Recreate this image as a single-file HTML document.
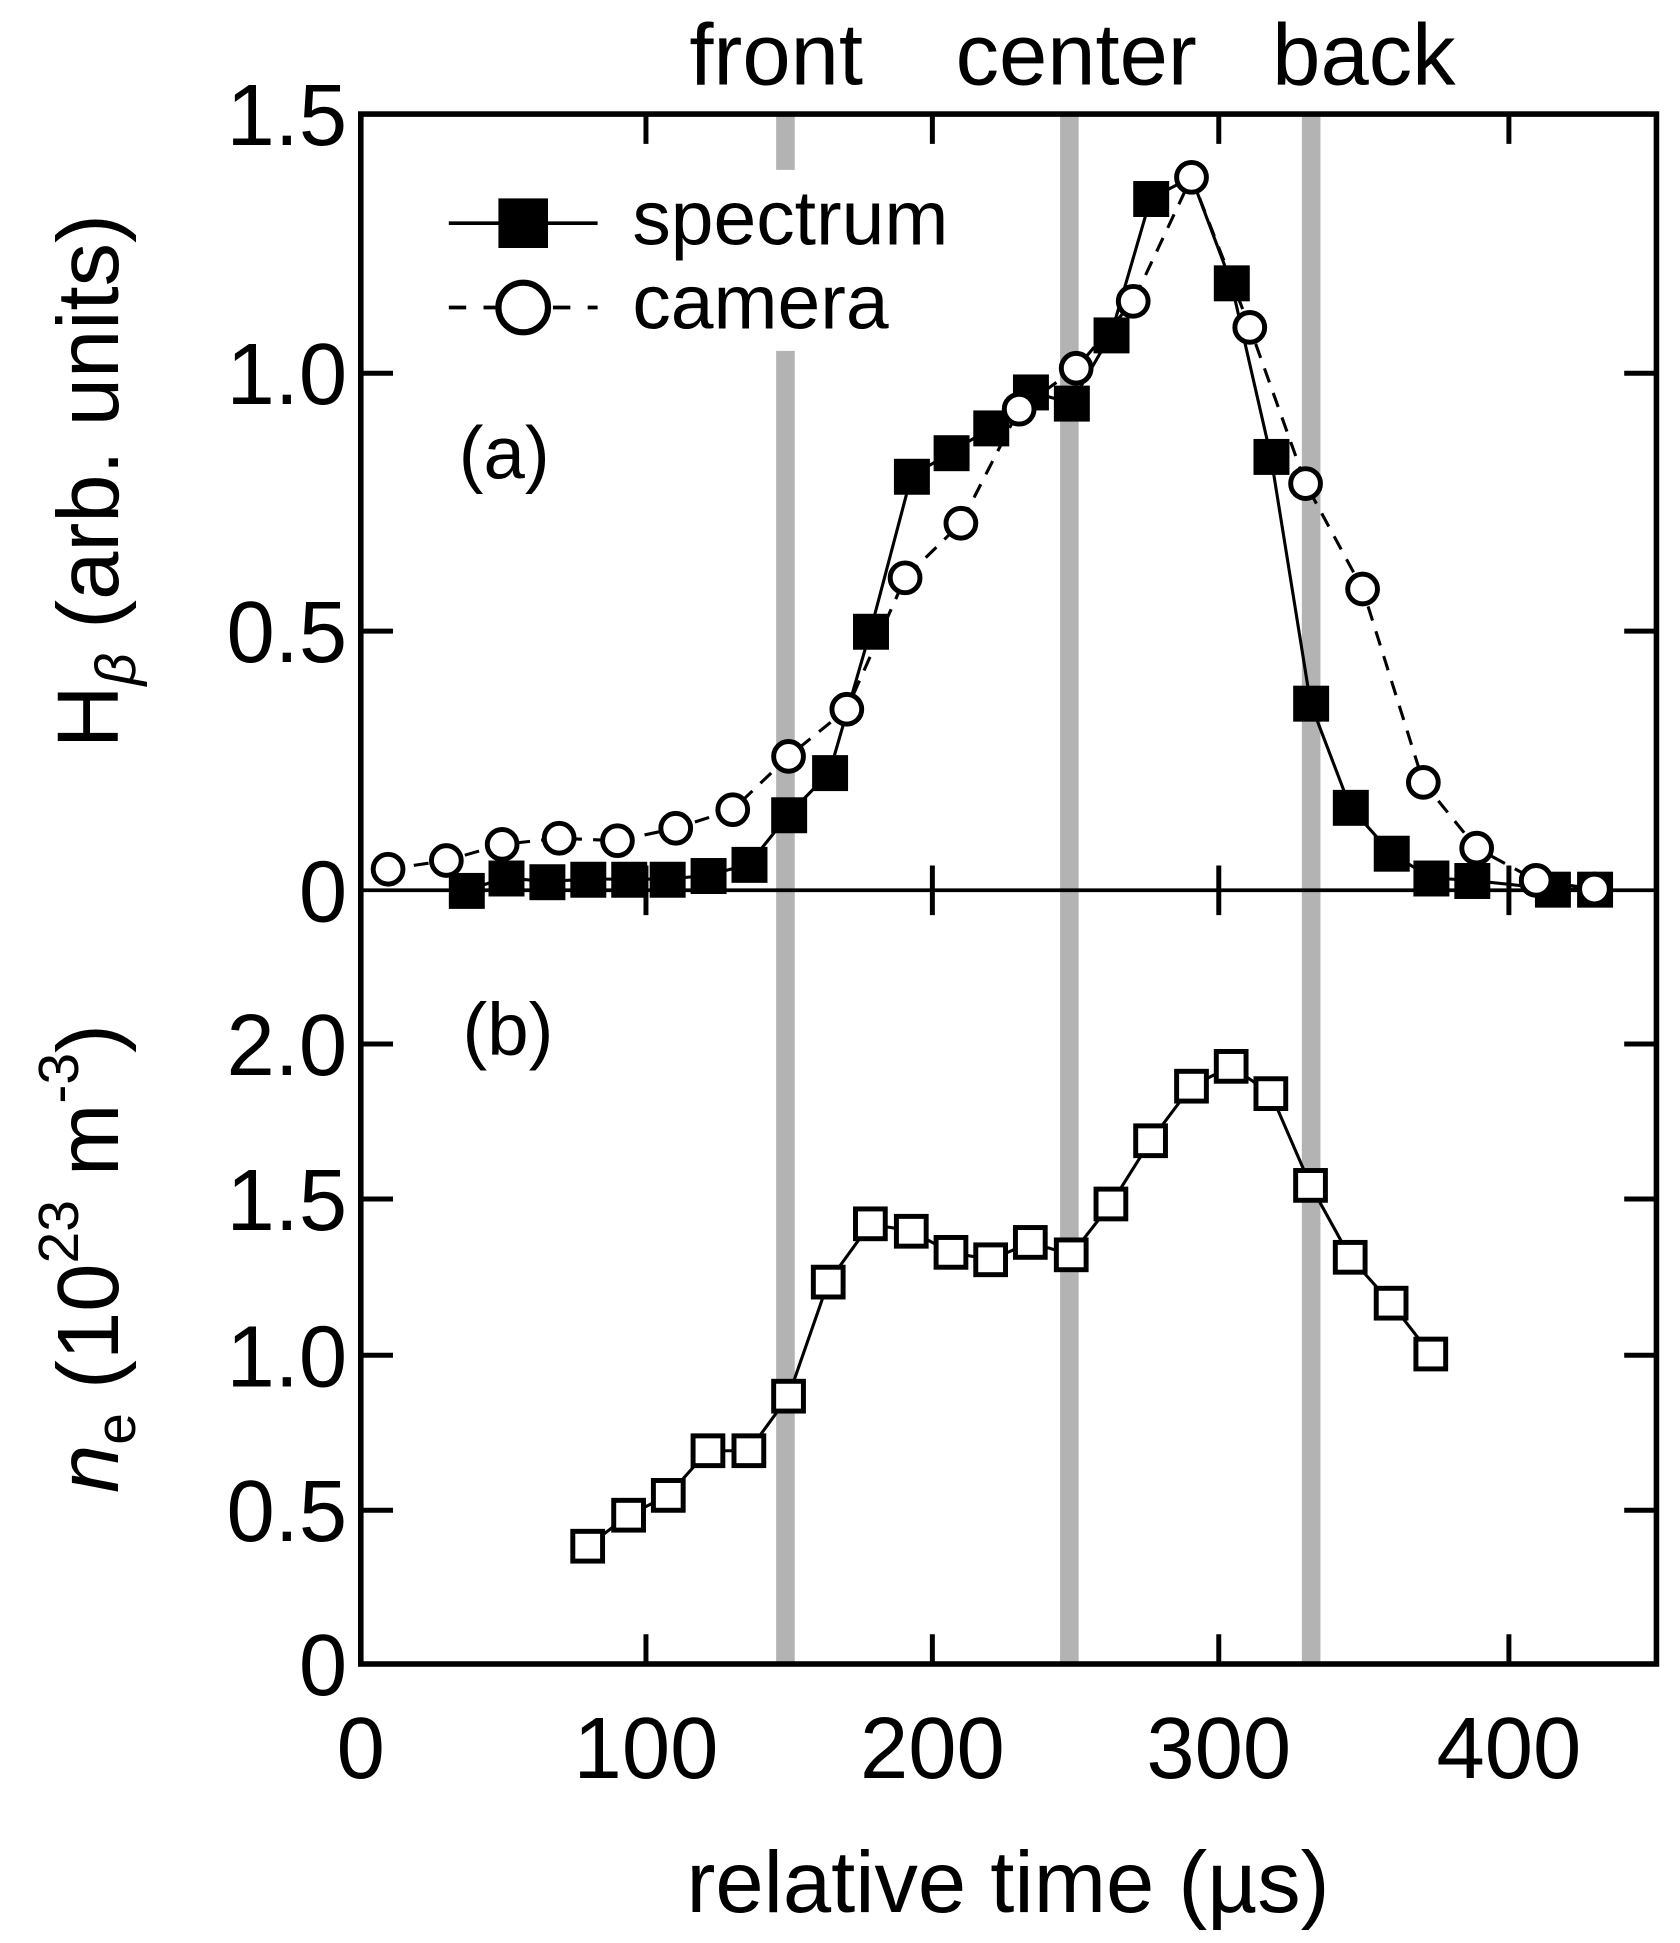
<!DOCTYPE html>
<html><head><meta charset="utf-8"><style>html,body{margin:0;padding:0;background:#fff}svg{display:block}</style></head>
<body>
<svg width="1680" height="1943" viewBox="0 0 1355 1567" preserveAspectRatio="none" xmlns="http://www.w3.org/2000/svg" font-family="Liberation Sans, Arial, sans-serif">
<rect width="1355" height="1567" fill="#fff"/>
<g fill="#b3b3b3">
<rect x="626" y="92" width="15" height="45"/><rect x="626" y="283" width="15" height="1059"/>
<rect x="855" y="92" width="15" height="1250"/>
<rect x="1050" y="92" width="15" height="1250"/>
</g>
<g stroke="#000" stroke-width="4.5" fill="none">
<rect x="291" y="92" width="1045" height="1250"/>
<line x1="291" y1="718" x2="1336" y2="718" stroke-width="3"/>
</g>
<g stroke="#000" stroke-width="4">
<path d="M521,1342v-24M752,1342v-24M983,1342v-24M1217,1342v-24
M521,92v24M752,92v24M983,92v24M1217,92v24
M521,698v40M752,698v40M983,698v40M1217,698v40"/>
<path d="M291,509h26M291,301h26M1336,509h-26M1336,301h-26"/>
<path d="M291,1218h26M291,1093h26M291,967h26M291,842h26M1336,1218h-26M1336,1093h-26M1336,967h-26M1336,842h-26"/>
</g>
<g font-size="70" text-anchor="end" fill="#000">
<text x="280" y="117">1.5</text><text x="280" y="326">1.0</text><text x="280" y="534">0.5</text><text x="280" y="743">0</text>
<text x="280" y="867">2.0</text><text x="280" y="992">1.5</text><text x="280" y="1118">1.0</text><text x="280" y="1243">0.5</text><text x="280" y="1367">0</text>
</g>
<g font-size="70" text-anchor="middle" fill="#000">
<text x="291" y="1434">0</text><text x="521" y="1434">100</text><text x="752" y="1434">200</text><text x="983" y="1434">300</text><text x="1217" y="1434">400</text>
<text x="813" y="1542">relative time (µs)</text>
<text x="626" y="68">front</text><text x="868" y="68">center</text><text x="1100" y="68">back</text>
</g>
<text x="370" y="386" font-size="60">(a)</text>
<text x="373" y="851" font-size="60">(b)</text>
<text transform="translate(95,388) rotate(-90)" text-anchor="middle" font-size="70">H<tspan font-size="46" font-style="italic" dy="14">β</tspan><tspan dy="-14"> (arb. units)</tspan></text>
<text transform="translate(95,1015) rotate(-90)" text-anchor="middle" font-size="70"><tspan font-style="italic">n</tspan><tspan font-size="46" dy="14">e</tspan><tspan dy="-14"> (10</tspan><tspan font-size="46" dy="-32">23</tspan><tspan dy="32"> m</tspan><tspan font-size="46" dy="-32">-3</tspan><tspan dy="32">)</tspan></text>
<line x1="362" y1="180" x2="482" y2="180" stroke="#000" stroke-width="3"/>
<rect x="402" y="160" width="40" height="40" fill="#000"/>
<text x="510" y="197" font-size="62">spectrum</text>
<line x1="362" y1="248" x2="482" y2="248" stroke="#000" stroke-width="3" stroke-dasharray="14,14"/>
<circle cx="422" cy="248" r="20" fill="#fff" stroke="#000" stroke-width="5"/>
<text x="510" y="265" font-size="62">camera</text>
<polyline fill="none" stroke="#000" stroke-width="2.5" stroke-dasharray="12,9" points="313,701 360,694 405,681 451,676 498,678 545,668 591,653 636,610 683,572 730,466 775,422 822,330 868,297 914,243 961,143 1008,264 1053,390 1099,475 1148,631 1191,684 1239,710 1286,717"/>
<polyline fill="none" stroke="#000" stroke-width="2.5" points="376,718 408,708 441,711 474,709 507,709 538,709 571,706 604,697 636,657 669,623 702,509 735,384 767,365 799,345 831,316 864,325 896,270 928,160 961,143 993,228 1025,368 1057,567 1089,651 1122,688 1154,708 1187,710 1252,717 1286,717"/>
<g fill="#000">
<rect x="362" y="704" width="29" height="29"/><rect x="394" y="694" width="29" height="29"/><rect x="427" y="697" width="29" height="29"/><rect x="460" y="695" width="29" height="29"/><rect x="493" y="695" width="29" height="29"/><rect x="524" y="695" width="29" height="29"/><rect x="557" y="692" width="29" height="29"/><rect x="590" y="683" width="29" height="29"/><rect x="622" y="643" width="29" height="29"/><rect x="655" y="609" width="29" height="29"/><rect x="688" y="495" width="29" height="29"/><rect x="721" y="370" width="29" height="29"/><rect x="753" y="351" width="29" height="29"/><rect x="785" y="331" width="29" height="29"/><rect x="817" y="302" width="29" height="29"/><rect x="850" y="311" width="29" height="29"/><rect x="882" y="256" width="29" height="29"/><rect x="914" y="146" width="29" height="29"/><rect x="979" y="214" width="29" height="29"/><rect x="1011" y="354" width="29" height="29"/><rect x="1043" y="553" width="29" height="29"/><rect x="1075" y="637" width="29" height="29"/><rect x="1108" y="674" width="29" height="29"/><rect x="1140" y="694" width="29" height="29"/><rect x="1173" y="696" width="29" height="29"/><rect x="1238" y="703" width="29" height="29"/><rect x="1272" y="703" width="29" height="29"/>
</g>
<g fill="#fff" stroke="#000" stroke-width="4">
<circle cx="313" cy="701" r="12"/><circle cx="360" cy="694" r="12"/><circle cx="405" cy="681" r="12"/><circle cx="451" cy="676" r="12"/><circle cx="498" cy="678" r="12"/><circle cx="545" cy="668" r="12"/><circle cx="591" cy="653" r="12"/><circle cx="636" cy="610" r="12"/><circle cx="683" cy="572" r="12"/><circle cx="730" cy="466" r="12"/><circle cx="775" cy="422" r="12"/><circle cx="822" cy="330" r="12"/><circle cx="868" cy="297" r="12"/><circle cx="914" cy="243" r="12"/><circle cx="961" cy="143" r="12"/><circle cx="1008" cy="264" r="12"/><circle cx="1053" cy="390" r="12"/><circle cx="1099" cy="475" r="12"/><circle cx="1148" cy="631" r="12"/><circle cx="1191" cy="684" r="12"/><circle cx="1239" cy="710" r="12"/><circle cx="1286" cy="717" r="12"/>
</g>
<polyline fill="none" stroke="#000" stroke-width="2.5" points="474,1247 507,1222 539,1206 571,1170 604,1170 636,1126 668,1034 702,987 735,993 767,1010 799,1016 831,1002 864,1012 896,971 928,920 961,876 993,860 1025,882 1057,956 1089,1014 1122,1051 1154,1092"/>
<g fill="#fff" stroke="#000" stroke-width="4">
<rect x="462" y="1235" width="24" height="24"/><rect x="495" y="1210" width="24" height="24"/><rect x="527" y="1194" width="24" height="24"/><rect x="559" y="1158" width="24" height="24"/><rect x="592" y="1158" width="24" height="24"/><rect x="624" y="1114" width="24" height="24"/><rect x="656" y="1022" width="24" height="24"/><rect x="690" y="975" width="24" height="24"/><rect x="723" y="981" width="24" height="24"/><rect x="755" y="998" width="24" height="24"/><rect x="787" y="1004" width="24" height="24"/><rect x="819" y="990" width="24" height="24"/><rect x="852" y="1000" width="24" height="24"/><rect x="884" y="959" width="24" height="24"/><rect x="916" y="908" width="24" height="24"/><rect x="949" y="864" width="24" height="24"/><rect x="981" y="848" width="24" height="24"/><rect x="1013" y="870" width="24" height="24"/><rect x="1045" y="944" width="24" height="24"/><rect x="1077" y="1002" width="24" height="24"/><rect x="1110" y="1039" width="24" height="24"/><rect x="1142" y="1080" width="24" height="24"/>
</g>
</svg>
</body></html>
